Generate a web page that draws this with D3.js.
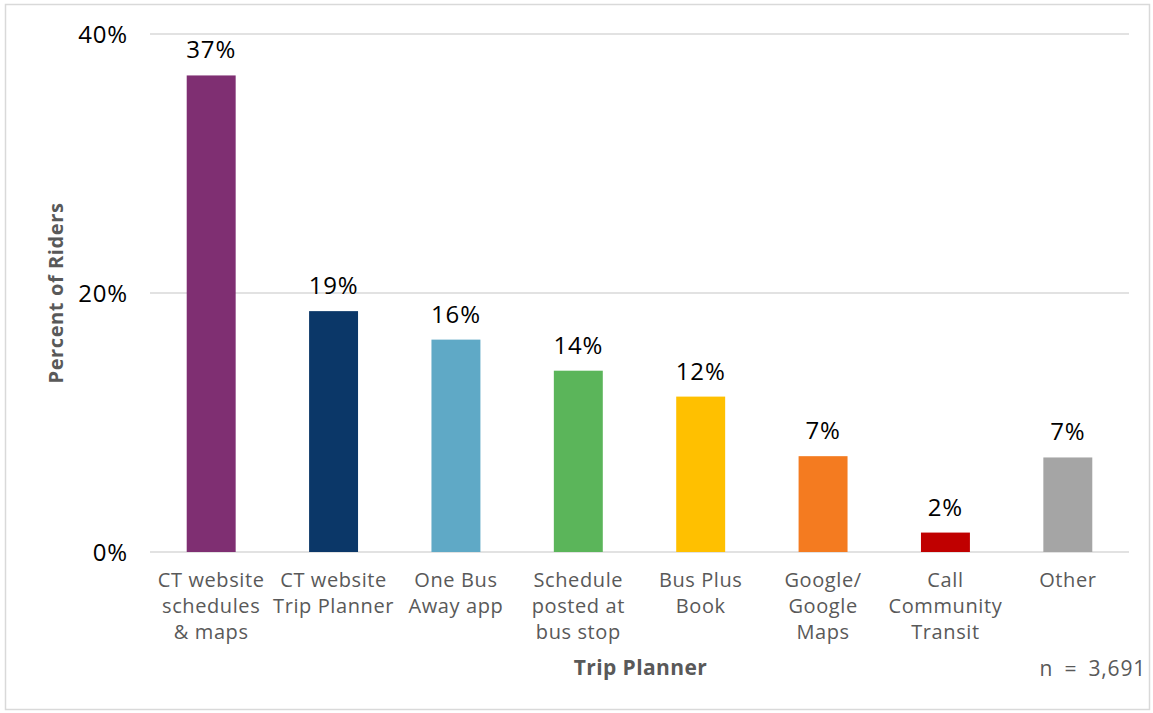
<!DOCTYPE html>
<html>
<head>
<meta charset="utf-8">
<script src="https://cdn.jsdelivr.net/npm/d3@7"></script>
<style>
  html, body { margin: 0; padding: 0; background: #fff; }
  svg { display: block; }
  text { font-family: "Century Gothic", "Open Sans", "Noto Sans", sans-serif; }
</style>
</head>
<body>
<svg id="chart" width="1153" height="713"></svg>
<script>
// Trip planning sources used by riders (percent of riders)
const categories = [
  ["CT website", "schedules", "& maps"],
  ["CT website", "Trip Planner"],
  ["One Bus", "Away app"],
  ["Schedule", "posted at", "bus stop"],
  ["Bus Plus", "Book"],
  ["Google/", "Google", "Maps"],
  ["Call", "Community", "Transit"],
  ["Other"]
];
const values = [36.8, 18.6, 16.4, 14.0, 12.0, 7.4, 1.5, 7.3];
const colors = ["#7F2F72", "#0B3768", "#5FA9C6", "#5BB55A", "#FFC000", "#F47B20", "#C00000", "#A5A5A5"];
const yTicks = [0, 20, 40];
const xTitle = "Trip Planner";
const yTitle = "Percent of Riders";
const note = "n = 3,691";

const svg = d3.select("#chart");
const W = 1153, H = 713;

// outer frame
svg.append("rect")
  .attr("x", 5.5).attr("y", 4.5)
  .attr("width", W - 9).attr("height", H - 8)
  .attr("fill", "#fff").attr("stroke", "#D9D9D9").attr("stroke-width", 1.5);

const plot = { left: 150, right: 1129, top: 34, bottom: 552 };

const x = d3.scaleBand()
  .domain(d3.range(categories.length))
  .range([plot.left, plot.right])
  .paddingInner(0.6)
  .paddingOuter(0.3);

const y = d3.scaleLinear().domain([0, 40]).range([plot.bottom, plot.top]);

// gridlines
svg.append("g")
  .selectAll("line")
  .data(yTicks)
  .join("line")
  .attr("x1", plot.left).attr("x2", plot.right)
  .attr("y1", d => y(d)).attr("y2", d => y(d))
  .attr("stroke", "#D9D9D9").attr("stroke-width", 1.5);

// y axis tick labels
const yAxis = d3.axisLeft(y).tickValues(yTicks).tickFormat(d => d + "%").tickSize(0).tickPadding(0);
const yg = svg.append("g").attr("transform", `translate(128,0)`).call(yAxis);
yg.select(".domain").remove();
yg.selectAll("text")
  .attr("font-size", 24)
  .attr("letter-spacing", 0.8)
  .attr("fill", "#000")
  .attr("dy", "0.35em")
  .style("font-family", "\"Century Gothic\", \"Open Sans\", sans-serif");

// bars
svg.append("g")
  .selectAll("rect")
  .data(values)
  .join("rect")
  .attr("x", (d, i) => x(i))
  .attr("width", x.bandwidth())
  .attr("y", d => y(d))
  .attr("height", d => y(0) - y(d))
  .attr("fill", (d, i) => colors[i]);

// value labels
svg.append("g")
  .selectAll("text")
  .data(values)
  .join("text")
  .attr("x", (d, i) => x(i) + x.bandwidth() / 2)
  .attr("y", d => y(d) - 17)
  .attr("text-anchor", "middle")
  .attr("font-size", 24)
  .attr("letter-spacing", 0.8)
  .attr("fill", "#000")
  .text(d => d3.format(".0f")(d) + "%");

// category labels
const xl = svg.append("g")
  .selectAll("text")
  .data(categories)
  .join("text")
  .attr("x", (d, i) => x(i) + x.bandwidth() / 2)
  .attr("y", 587)
  .attr("text-anchor", "middle")
  .attr("font-size", 20)
  .attr("letter-spacing", 0.6)
  .attr("fill", "#595959");
xl.selectAll("tspan")
  .data(d => d)
  .join("tspan")
  .attr("x", function () { return d3.select(this.parentNode).attr("x"); })
  .attr("dy", (d, i) => i === 0 ? 0 : 26)
  .text(d => d);

// axis titles
svg.append("text")
  .attr("x", (plot.left + plot.right) / 2 + 1)
  .attr("y", 675)
  .attr("text-anchor", "middle")
  .attr("font-size", 21)
  .attr("letter-spacing", 0.4)
  .attr("font-weight", "bold")
  .attr("fill", "#595959")
  .text(xTitle);

svg.append("text")
  .attr("transform", `translate(63,${(plot.top + plot.bottom) / 2}) rotate(-90)`)
  .attr("text-anchor", "middle")
  .attr("font-size", 20)
  .attr("letter-spacing", 0.6)
  .attr("font-weight", "bold")
  .attr("fill", "#595959")
  .text(yTitle);

svg.append("text")
  .attr("x", 1146)
  .attr("y", 676)
  .attr("text-anchor", "end")
  .attr("font-size", 21)
  .attr("letter-spacing", 0.8)
  .attr("word-spacing", 5)
  .attr("fill", "#595959")
  .text(note);
</script>
</body>
</html>
